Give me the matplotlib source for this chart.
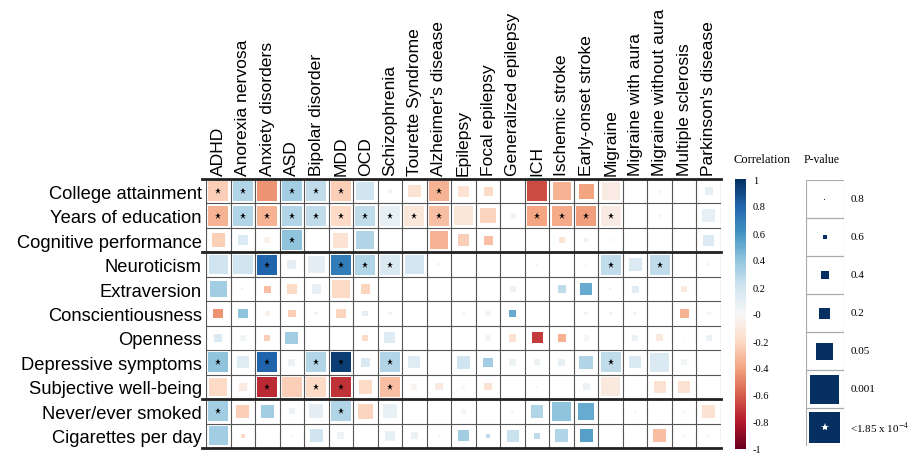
import matplotlib
matplotlib.use("Agg")
import matplotlib.pyplot as plt
import numpy as np
from matplotlib.patches import Rectangle
from matplotlib.colors import Normalize
from matplotlib.colorbar import ColorbarBase

# traits (rows) and disorders (columns)
traits = ["College attainment", "Years of education", "Cognitive performance",
          "Neuroticism", "Extraversion", "Conscientiousness", "Openness",
          "Depressive symptoms", "Subjective well-being", "Never/ever smoked",
          "Cigarettes per day"]
disorders = ["ADHD", "Anorexia nervosa", "Anxiety disorders", "ASD", "Bipolar disorder",
             "MDD", "OCD", "Schizophrenia", "Tourette Syndrome", "Alzheimer's disease",
             "Epilepsy", "Focal epilepsy", "Generalized epilepsy", "ICH", "Ischemic stroke",
             "Early-onset stroke", "Migraine", "Migraine with aura", "Migraine without aura",
             "Multiple sclerosis", "Parkinson's disease"]

# genetic correlation estimates (read from the colours)
corr = [
    [-0.25, 0.3, -0.45, 0.35, 0.25, -0.25, 0.2, 0.02, -0.15, -0.35, -0.15, -0.2, 0.0, -0.65, -0.35, -0.4, -0.08, 0.0, 0.02, 0.0, 0.08],
    [-0.35, 0.3, -0.35, 0.3, 0.25, -0.2, 0.25, 0.08, -0.12, -0.3, -0.12, -0.22, -0.03, -0.4, -0.38, -0.42, -0.08, 0.0, 0.02, 0.0, 0.08],
    [-0.25, 0.15, -0.05, 0.4, 0.0, -0.15, 0.3, 0.0, 0.0, -0.35, -0.25, -0.3, 0.0, 0.0, -0.15, -0.05, -0.02, 0.0, 0.0, 0.0, 0.15],
    [0.2, 0.2, 0.8, 0.1, 0.1, 0.7, 0.3, 0.15, 0.18, 0.02, 0.0, 0.0, 0.0, 0.02, 0.0, 0.02, 0.25, 0.15, 0.25, 0.0, 0.02],
    [0.35, 0.02, -0.3, -0.2, 0.08, -0.2, -0.22, 0.0, 0.0, 0.0, 0.0, 0.0, 0.05, 0.0, 0.25, 0.5, 0.02, 0.12, 0.0, -0.1, 0.0],
    [-0.45, 0.4, -0.05, -0.25, -0.03, -0.22, 0.1, 0.02, 0.0, 0.0, 0.02, 0.03, 0.5, 0.0, 0.0, 0.03, 0.03, 0.03, 0.02, -0.35, 0.02],
    [0.15, 0.03, -0.25, 0.35, 0.0, 0.0, -0.2, 0.12, 0.0, 0.0, 0.0, 0.03, -0.15, -0.7, -0.35, 0.02, 0.0, 0.05, -0.1, 0.0, 0.05],
    [0.4, 0.12, 0.8, 0.05, 0.3, 0.95, 0.15, 0.3, 0.12, 0.0, 0.2, 0.35, 0.05, 0.05, 0.08, 0.3, 0.25, 0.15, 0.15, 0.03, 0.0],
    [-0.2, -0.08, -0.75, -0.25, -0.2, -0.72, -0.2, -0.3, -0.02, -0.1, -0.02, -0.15, 0.0, -0.02, 0.0, 0.05, -0.1, 0.0, -0.15, -0.15, 0.0],
    [0.35, -0.25, 0.35, 0.05, 0.1, 0.3, -0.22, 0.08, 0.0, 0.0, 0.03, 0.0, 0.02, 0.3, 0.4, 0.5, 0.0, 0.02, 0.0, 0.02, -0.15],
    [0.35, -0.2, 0.0, 0.02, 0.2, 0.05, 0.0, 0.08, 0.05, 0.02, 0.35, 0.25, 0.22, 0.25, 0.3, 0.55, 0.0, 0.0, -0.3, 0.02, 0.02],
]

pval = [
    [1e-4, 1e-4, 0.0003, 1e-4, 1e-4, 1e-4, 0.0015, 0.5, 0.025, 1e-4, 0.05, 0.1, 0.99, 0.0003, 0.0015, 0.006, 0.0015, 0.99, 0.6, 0.99, 0.15],
    [1e-4, 1e-4, 1e-4, 1e-4, 1e-4, 1e-4, 1e-4, 1e-4, 1e-4, 1e-4, 0.0008, 0.006, 0.3, 1e-4, 1e-4, 1e-4, 1e-4, 0.99, 0.6, 0.99, 0.015],
    [0.015, 0.08, 0.3, 1e-4, 0.8, 0.006, 0.0015, 0.99, 0.9, 0.0015, 0.03, 0.1, 0.99, 0.99, 0.3, 0.5, 0.6, 0.99, 0.99, 0.99, 0.05],
    [0.0008, 0.0003, 1e-4, 0.1, 0.003, 1e-4, 1e-4, 1e-4, 0.0008, 0.5, 0.99, 0.99, 0.99, 0.6, 0.99, 0.6, 1e-4, 0.02, 1e-4, 0.99, 0.6],
    [0.003, 0.6, 0.2, 0.08, 0.08, 0.0015, 0.08, 0.99, 0.99, 0.99, 0.99, 0.99, 0.3, 0.99, 0.15, 0.03, 0.6, 0.2, 0.99, 0.3, 0.99],
    [0.08, 0.08, 0.35, 0.15, 0.5, 0.08, 0.3, 0.5, 0.99, 0.99, 0.6, 0.4, 0.15, 0.99, 0.99, 0.5, 0.5, 0.5, 0.7, 0.1, 0.5],
    [0.15, 0.35, 0.3, 0.02, 0.7, 0.7, 0.3, 0.05, 0.99, 0.99, 0.7, 0.4, 0.15, 0.05, 0.15, 0.4, 0.7, 0.35, 0.2, 0.7, 0.3],
    [1e-4, 0.03, 1e-4, 0.2, 1e-4, 1e-4, 0.08, 1e-4, 0.03, 0.99, 0.02, 0.08, 0.2, 0.3, 0.2, 0.015, 1e-4, 0.03, 0.0008, 0.3, 0.99],
    [0.0015, 0.15, 1e-4, 0.0003, 1e-4, 1e-4, 0.015, 1e-4, 0.3, 0.2, 0.5, 0.2, 0.99, 0.6, 0.99, 0.2, 0.0008, 0.99, 0.03, 0.03, 0.99],
    [1e-4, 0.02, 0.02, 0.3, 0.01, 1e-4, 0.006, 0.01, 0.99, 0.99, 0.4, 0.99, 0.6, 0.02, 0.0003, 0.003, 0.99, 0.6, 0.99, 0.6, 0.015],
    [0.0008, 0.45, 0.7, 0.6, 0.015, 0.2, 0.99, 0.08, 0.2, 0.6, 0.05, 0.45, 0.03, 0.3, 0.015, 0.02, 0.99, 0.99, 0.015, 0.6, 0.6],
]

p_levels = [0.8, 0.6, 0.4, 0.2, 0.05, 0.001, 1e-4]
p_labels = ["0.8", "0.6", "0.4", "0.2", "0.05", "0.001", r"<1.85 x 10$^{-4}$"]
p_cut = 1.85e-4
group_breaks = [0, 3, 9, 11]

# square side (fraction of a cell) for a p-value, as in the legend
_lp = -np.log10([1.0, 0.8, 0.6, 0.4, 0.2, 0.05, 0.001, 1.85e-4])
_side = np.array([0, 1, 4, 8, 11, 17, 29, 31]) / 38.0


def side_for(p):
    return np.interp(-np.log10(p), _lp, _side)


plt.rcParams['font.family'] = ['Liberation Sans', 'DejaVu Sans']
plt.rcParams['mathtext.fontset'] = 'stix'
cmap = plt.get_cmap('RdBu')
norm = Normalize(-1, 1)

W, H = 912, 456
fig = plt.figure(figsize=(W / 100, H / 100), dpi=100)

nr, nc = len(traits), len(disorders)
ax = fig.add_axes([206 / W, 7 / H, 515 / W, 269 / H])
ax.set_xlim(0, nc)
ax.set_ylim(nr, 0)

C = np.array(corr)
P = np.array(pval)
for i in range(nr):
    for j in range(nc):
        s = side_for(P[i, j])
        ax.add_patch(Rectangle((j + 0.5 - s / 2, i + 0.5 - s / 2), s, s,
                               facecolor=cmap(norm(C[i, j])), edgecolor='none', zorder=2))
        if P[i, j] < p_cut:
            ax.plot(j + 0.5, i + 0.5, marker='*', color='k', ms=4.8, mew=0, zorder=3)

# grid
for j in range(nc + 1):
    ax.axvline(j, color='#555555', lw=0.8, zorder=1)
for i in range(nr + 1):
    ax.axhline(i, color='#555555', lw=0.8, zorder=1)
for b in group_breaks:
    ax.plot([-0.15, nc], [b, b], color='#222222', lw=2, clip_on=False, zorder=4)

ax.set_xticks(np.arange(nc) + 0.5)
ax.set_xticklabels(disorders, rotation=90, fontsize=12.6)
ax.xaxis.tick_top()
ax.set_yticks(np.arange(nr) + 0.5)
ax.set_yticklabels(traits, fontsize=13.2)
ax.tick_params(length=0, pad=3)
for sp in ax.spines.values():
    sp.set_visible(False)

# colour bar
cax = fig.add_axes([735 / W, 6 / H, 11 / W, 270 / H])
cb = ColorbarBase(cax, cmap=cmap, norm=norm, ticks=np.round(np.arange(-1, 1.01, 0.2), 1))
cb.set_ticklabels(['%g' % t for t in np.round(np.arange(-1, 1.01, 0.2), 1)])
cb.outline.set_visible(False)
cax.tick_params(length=0, labelsize=7.5, pad=5)
for t in cax.get_yticklabels():
    t.set_family('Liberation Serif')
fig.text(762 / W, 1 - 160 / H, "Correlation", family='Liberation Serif', fontsize=9,
         ha='center', va='center')

# p-value legend
lax = fig.add_axes([806 / W, 9 / H, 38 / W, 266 / H])
lax.set_xlim(0, 1)
lax.set_ylim(len(p_levels), 0)
lax.axis('off')
navy = cmap(1.0)
for k, p in enumerate(p_levels):
    lax.add_patch(Rectangle((0, k), 1, 1, fill=False, edgecolor='#aaaaaa', lw=0.8))
    s = side_for(p)
    lax.add_patch(Rectangle((0.5 - s / 2, k + 0.5 - s / 2), s, s, facecolor=navy, edgecolor='none'))
    if p < p_cut:
        lax.plot(0.5, k + 0.5, marker='*', color='white', ms=6, mew=0)
    lax.text(1.17, k + 0.5, p_labels[k], family='Liberation Serif', fontsize=8, va='center', ha='left')
fig.text(822 / W, 1 - 160 / H, "P-value", family='Liberation Serif', fontsize=8.5,
         ha='center', va='center')

fig.savefig("out.png", dpi=100)
